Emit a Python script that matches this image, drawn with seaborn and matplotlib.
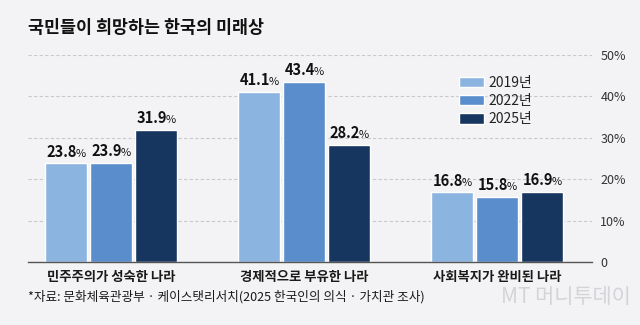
import matplotlib
matplotlib.use("Agg")
import matplotlib.pyplot as plt
import seaborn as sns
import pandas as pd

categories = ["민주주의가 성숙한 나라", "경제적으로 부유한 나라", "사회복지가 완비된 나라"]
years = ["2019년", "2022년", "2025년"]
values_2019 = [23.8, 41.1, 16.8]
values_2022 = [23.9, 43.4, 15.8]
values_2025 = [31.9, 28.2, 16.9]
yticks = [0, 10, 20, 30, 40, 50]
ytick_labels = ["0", "10%", "20%", "30%", "40%", "50%"]
colors = ["#8cb4e1", "#5a8dcb", "#17365f"]

title = "국민들이 희망하는 한국의 미래상"
source = "*자료: 문화체육관광부 · 케이스탯리서치(2025 한국인의 의식 · 가치관 조사)"

rows = []
for yr, vals in zip(years, [values_2019, values_2022, values_2025]):
    for c, v in zip(categories, vals):
        rows.append({"category": c, "year": yr, "value": v})
df = pd.DataFrame(rows)

sns.set_theme(style="white")
plt.rcParams["font.family"] = ["Noto Sans CJK KR", "DejaVu Sans"]

bg = "#f3f3f5"
fig = plt.figure(figsize=(6.4, 3.25), dpi=100, facecolor=bg)
ax = fig.add_axes([28/640, 63/325, 564/640, 207/325])
ax.set_facecolor(bg)

sns.barplot(data=df, x="category", y="value", hue="year", palette=colors,
            width=0.7, gap=0.07, saturation=1, ax=ax, legend=True)

ax.set_xlim(-0.43, 2.49)
ax.set_ylim(0, 50)
ax.set_yticks(yticks)
ax.set_yticklabels(ytick_labels)
ax.yaxis.tick_right()
ax.tick_params(axis="y", length=0, pad=6, labelsize=9, labelcolor="#333333")
ax.tick_params(axis="x", length=0, pad=6)
for lab in ax.get_xticklabels():
    lab.set_fontweight("bold")
    lab.set_fontsize(9.6)
    lab.set_color("#1a1a1a")
ax.set_xlabel("")
ax.set_ylabel("")
for s in ["top", "left", "right"]:
    ax.spines[s].set_visible(False)
ax.spines["bottom"].set_color("#555555")
ax.spines["bottom"].set_linewidth(1.0)
ax.yaxis.grid(True, color="#c9c9cc", linestyle=(0, (3, 2)), linewidth=0.8)
ax.set_axisbelow(True)

handles, labels = ax.get_legend_handles_labels()
ax.legend(handles, labels, loc="upper left", bbox_to_anchor=(0.764, 0.90),
          frameon=False, fontsize=10, handlelength=1.8, handleheight=0.8,
          labelspacing=0.3, handletextpad=0.35, borderpad=0, borderaxespad=0,
          labelcolor="#222222")

fig.canvas.draw()
r = fig.canvas.get_renderer()
k = 72 / fig.dpi
for p in ax.patches:
    h = p.get_height()
    if h is None or h <= 0:
        continue
    cx = p.get_x() + p.get_width() / 2
    t1 = ax.annotate(f"{h:.1f}", xy=(cx, h), xytext=(0, 3), textcoords="offset points",
                     ha="left", va="baseline", fontsize=10.5, fontweight="bold", color="#111111")
    t2 = ax.annotate("%", xy=(cx, h), xytext=(0, 3), textcoords="offset points",
                     ha="left", va="baseline", fontsize=8, color="#111111")
    w1 = t1.get_window_extent(r).width - 1.5
    w2 = t2.get_window_extent(r).width
    tot = w1 + w2
    t1.xyann = (-tot / 2 * k, 5)
    t2.xyann = ((-tot / 2 + w1) * k, 5)

fig.text(28/640, 1 - 28/325, title, fontsize=12.5, fontweight="bold",
         color="#111111", ha="left", va="center")
fig.text(28/640, 1 - 297/325, source, fontsize=9.1, color="#1a1a1a",
         ha="left", va="center")
fig.text(0.985, 1 - 297/325, "MT 머니투데이", fontsize=15, color="#d4d4d8",
         ha="right", va="center", style="italic")

fig.savefig("out.png", dpi=100, facecolor=bg)
